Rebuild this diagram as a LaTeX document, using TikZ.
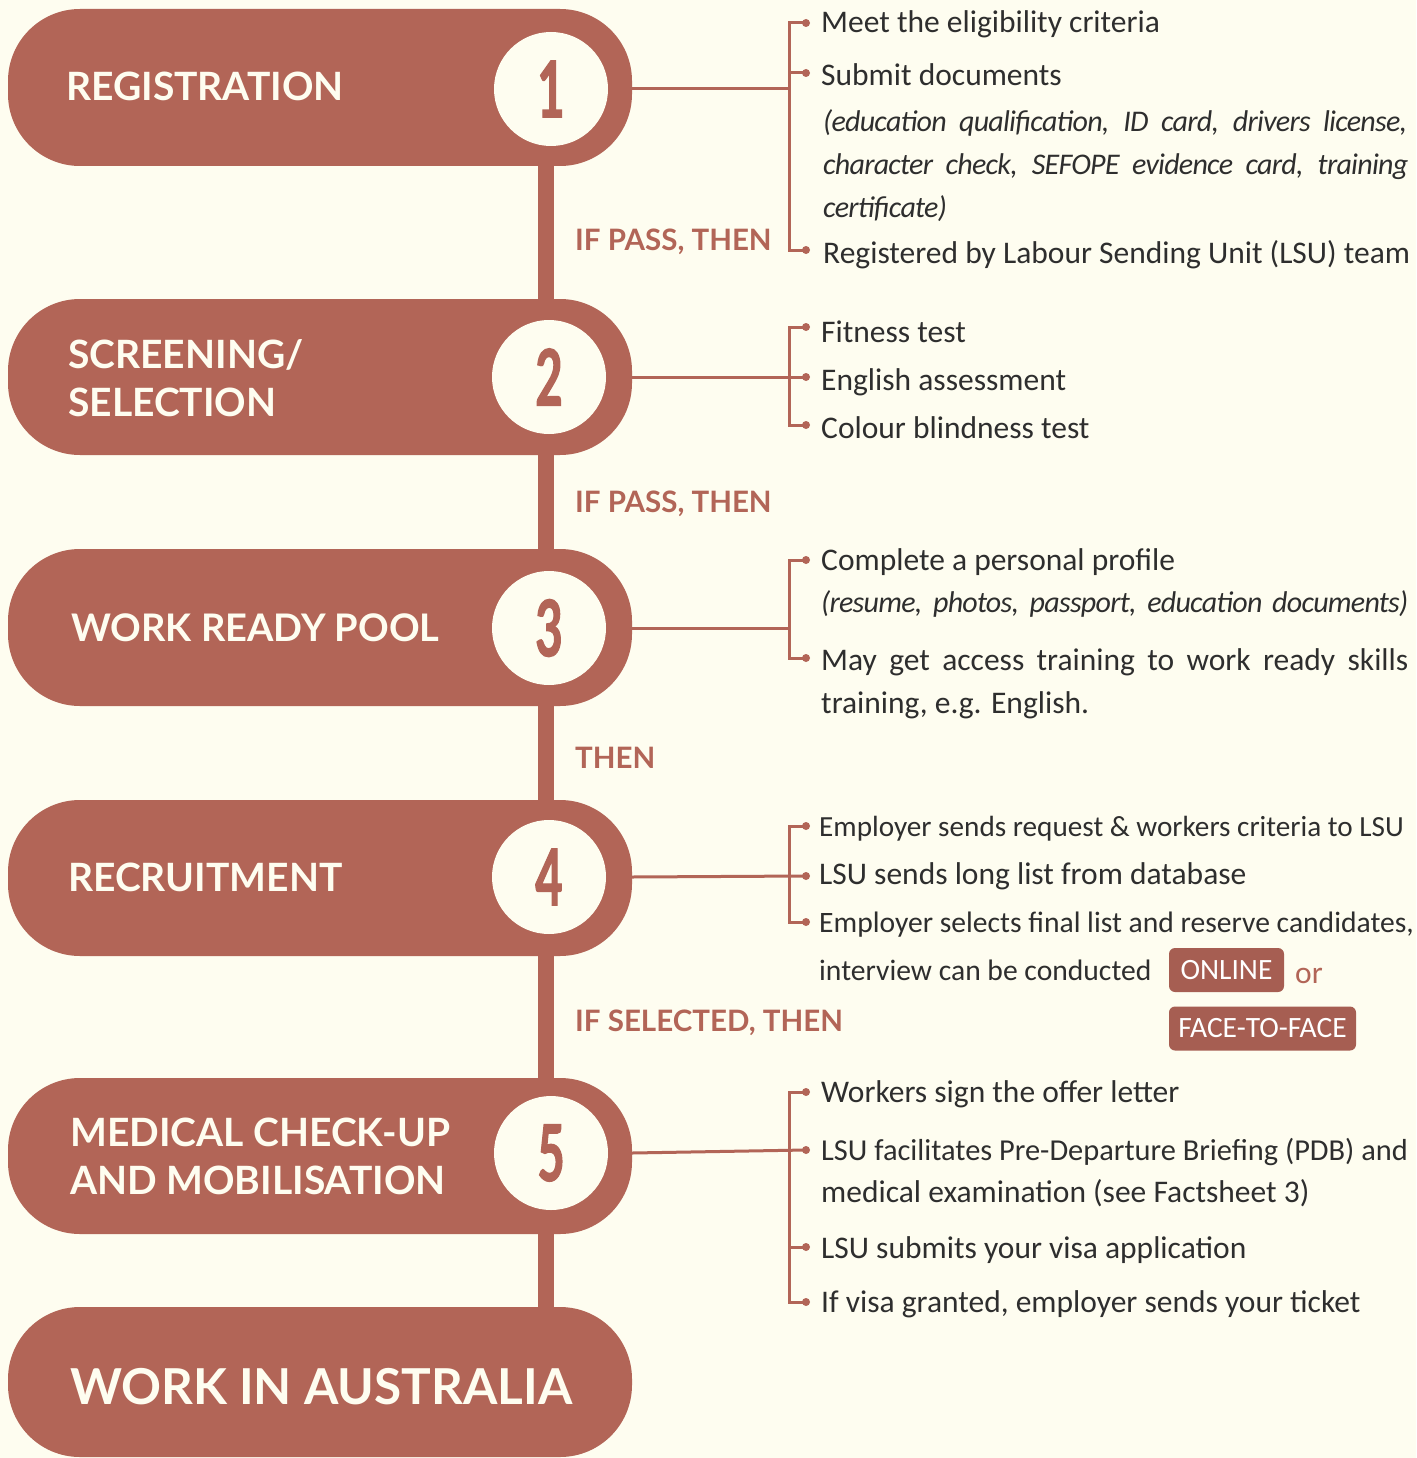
\documentclass[tikz,border=0pt]{standalone}
\usepackage{fontspec}
\setmainfont{Carlito}
\newfontfamily\headfont{Lato}
\newfontfamily\numfont[FakeStretch=0.6,FakeBold=1.5]{Lato}
\newfontfamily\notefont[LetterSpace=-2.5]{Carlito}
\usetikzlibrary{positioning}
\definecolor{brick}{HTML}{B26557}
\definecolor{boxbrick}{HTML}{A65E52}
\definecolor{cream}{HTML}{FEFDF0}
\definecolor{ink}{HTML}{2E2E2E}
\tikzset{
	pill/.style={fill=brick, rounded corners=72pt, minimum width=624pt, inner sep=0pt},
	numdisc/.style={circle, fill=cream, minimum size=114pt, inner sep=0pt, text=brick,
		font=\numfont\bfseries\fontsize{78}{78}\selectfont},
	steptitle/.style={anchor=base west, inner sep=0pt, text=cream,
		font=\headfont\bfseries\fontsize{39}{39}\selectfont},
	condlabel/.style={anchor=base west, inner sep=0pt, text=brick,
		font=\headfont\bfseries\fontsize{29.5}{29.5}\selectfont},
	item/.style={anchor=base west, inner sep=0pt, text=ink, font=\fontsize{31.5}{31.5}\selectfont},
	note/.style={item, font=\notefont\itshape\fontsize{30}{30}\selectfont},
	tight/.style={item, font=\fontsize{29.6}{29.6}\selectfont},
	link/.style={draw=brick, line width=3pt},
	dot/.style={circle, fill=brick, inner sep=0pt, minimum size=8pt},
	tag/.style={fill=boxbrick, rounded corners=6pt, text=white, inner sep=0pt,
		minimum height=44pt, font=\fontsize{29.5}{29.5}\selectfont}
}
\begin{document}
\begin{tikzpicture}[x=1pt, y=-1pt]
	\useasboundingbox (0,0) rectangle (1416,1458);
	\fill[cream] (0,0) rectangle (1416,1458);

	% stem behind the steps
	\coordinate (stemtop) at (546,150);
	\coordinate (stembot) at (546,1320);
	\draw[brick, line width=16pt] (stemtop) -- (stembot);

	% steps
	\node[pill, minimum height=157pt] (step1) at (320,87.5) {};
	\node[pill, minimum height=156pt] (step2) at (320,377) {};
	\node[pill, minimum height=157pt] (step3) at (320,627.5) {};
	\node[pill, minimum height=156pt] (step4) at (320,878) {};
	\node[pill, minimum height=156pt] (step5) at (320,1156) {};
	\node[pill, minimum height=150pt] (step6) at (320,1382) {};

	\node[numdisc] (num1) at (551,89) {1};
	\node[numdisc] (num2) at (549,377) {2};
	\node[numdisc] (num3) at (549,628) {3};
	\node[numdisc] (num4) at (549,877) {4};
	\node[numdisc] (num5) at (551,1153) {5};

	\node[steptitle] (title1) at (66,101) {REGISTRATION};
	\node[steptitle] (title2a) at (68,368) {SCREENING/};
	\node[steptitle] (title2b) at (68,416) {SELECTION};
	\node[steptitle, font=\headfont\bfseries\fontsize{38}{38}\selectfont] (title3) at (71,641) {WORK READY POOL};
	\node[steptitle] (title4) at (68,891) {RECRUITMENT};
	\node[steptitle] (title5a) at (70,1146) {MEDICAL CHECK-UP};
	\node[steptitle] (title5b) at (70,1194) {AND MOBILISATION};
	\node[steptitle, font=\headfont\bfseries\fontsize{49.5}{49.5}\selectfont] (title6) at (70,1404) {WORK IN AUSTRALIA};

	\node[condlabel] (cond1) at (575,250) {IF PASS, THEN};
	\node[condlabel] (cond2) at (575,512) {IF PASS, THEN};
	\node[condlabel] (cond3) at (575,768) {THEN};
	\node[condlabel] (cond4) at (575,1031) {IF SELECTED, THEN};

	% step 1 details
	\coordinate (br1) at (789,89);
	\node[dot] (d1a) at (806,23) {};
	\node[dot] (d1b) at (806,73) {};
	\node[dot] (d1c) at (806,250) {};
	\draw[link] (num1 -| step1.east) -- (br1);
	\draw[link] (d1a.center) -| (br1) |- (d1c.center);
	\draw[link] (br1 |- d1b) -- (d1b.center);
	\node[item] at (821,33) {Meet the eligibility criteria};
	\node[item] at (821,86) {Submit documents};
	\node[note] at (823,132) {\makebox[584pt][s]{(education qualification, ID card, drivers license,}};
	\node[note] at (823,175) {\makebox[585pt][s]{character check, SEFOPE evidence card, training}};
	\node[note] at (823,217) {certificate)};
	\node[item] at (823,263) {Registered by Labour Sending Unit (LSU) team};

	% step 2 details
	\coordinate (br2) at (789,377);
	\node[dot] (d2a) at (806,327) {};
	\node[dot] (d2b) at (806,377) {};
	\node[dot] (d2c) at (806,425) {};
	\draw[link] (num2 -| step2.east) -- (d2b.center);
	\draw[link] (d2a.center) -| (br2) |- (d2c.center);
	\node[item] at (821,342) {Fitness test};
	\node[item] at (821,390) {English assessment};
	\node[item] at (821,438) {Colour blindness test};

	% step 3 details
	\coordinate (br3) at (789,628);
	\node[dot] (d3a) at (806,560) {};
	\node[dot] (d3b) at (806,658) {};
	\draw[link] (num3 -| step3.east) -- (br3);
	\draw[link] (d3a.center) -| (br3) |- (d3b.center);
	\node[item] at (821,570) {Complete a personal profile};
	\node[note] at (821,612) {\makebox[587pt][s]{(resume, photos, passport, education documents)}};
	\node[item] at (821,670) {\makebox[587pt][s]{May get access training to work ready skills}};
	\node[item] at (821,713) {training, e.g. English.};

	% step 4 details
	\coordinate (br4) at (789,876);
	\node[dot] (d4a) at (806,826) {};
	\node[dot] (d4b) at (806,876) {};
	\node[dot] (d4c) at (806,922) {};
	\draw[link] (num4 -| step4.east) -- (d4b.center);
	\draw[link] (d4a.center) -| (br4) |- (d4c.center);
	\node[tight, font=\fontsize{29.2}{29.2}\selectfont] at (819,836) {Employer sends request \& workers criteria to LSU};
	\node[item] at (819,884) {LSU sends long list from database};
	\node[tight] at (819,932) {Employer selects final list and reserve candidates,};
	\node[tight] (interview) at (819,980) {interview can be conducted};
	\node[tag, minimum width=115pt] (online) at (1226.5,970) {ONLINE};
	\node[item, text=brick] (ortext) at (1295,983) {or};
	\node[tag, minimum width=187pt] (facetoface) at (1262.5,1028.5) {FACE-TO-FACE};

	% step 5 details
	\coordinate (br5) at (789,1150);
	\node[dot] (d5a) at (806,1092) {};
	\node[dot] (d5b) at (806,1150) {};
	\node[dot] (d5c) at (806,1247) {};
	\node[dot] (d5d) at (806,1302) {};
	\draw[link] (num5 -| step5.east) -- (d5b.center);
	\draw[link] (d5a.center) -| (br5) |- (d5d.center);
	\draw[link] (br5 |- d5c) -- (d5c.center);
	\node[item] at (821,1102) {Workers sign the offer letter};
	\node[tight, font=\fontsize{30.4}{30.4}\selectfont] at (821,1160) {LSU facilitates Pre-Departure Briefing (PDB) and};
	\node[item] at (821,1202) {medical examination (see Factsheet 3)};
	\node[item] at (821,1258) {LSU submits your visa application};
	\node[item] at (821,1312) {If visa granted, employer sends your ticket};
\end{tikzpicture}
\end{document}
